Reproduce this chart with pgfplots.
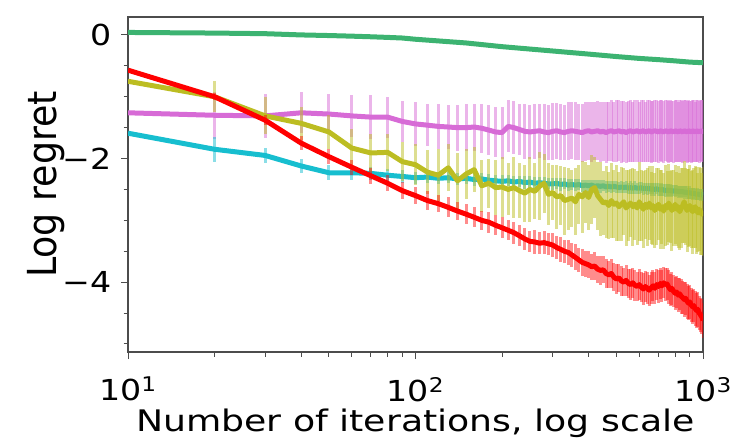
\documentclass[border=0pt]{standalone}
\usepackage{pgfplots}
\pgfplotsset{compat=1.18}
\usepackage{pgfplotstable}
\usepackage{fontspec}
\usepackage{graphicx}
\setmainfont{DejaVu Sans}
\newfontfamily\tickfont{DejaVu Sans}[FakeStretch=1.15]
\newfontfamily\labfont{DejaVu Sans}[FakeStretch=1.22]
\definecolor{cgreen}{HTML}{3CB371}
\definecolor{cred}{HTML}{FF0000}
\definecolor{colive}{HTML}{BCBD22}
\definecolor{corchid}{HTML}{D76BD6}
\definecolor{ccyan}{HTML}{17BECF}

\pgfplotstableread{
x y
10 0.04
20 0.03
30 0.02
40 0.00
50 -0.01
60 -0.02
70 -0.03
80 -0.04
90 -0.05
100 -0.07
150 -0.13
200 -0.19
300 -0.26
400 -0.31
500 -0.35
600 -0.38
700 -0.40
800 -0.42
900 -0.44
1000 -0.45
}\greendata

\pgfplotstableread{
x y e
10 -0.57 0.04
20 -1.00 0.06
30 -1.38 0.08
40 -1.75 0.11
50 -1.97 0.12
60 -2.14 0.12
70 -2.28 0.13
80 -2.40 0.13
90 -2.52 0.14
100 -2.60 0.14
110 -2.68 0.15
120 -2.73 0.14
130 -2.79 0.16
140 -2.85 0.15
150 -2.90 0.16
160 -2.95 0.16
170 -3.00 0.15
180 -3.03 0.17
190 -3.08 0.16
200 -3.12 0.17
210 -3.16 0.16
220 -3.20 0.18
230 -3.25 0.17
240 -3.30 0.18
250 -3.34 0.17
260 -3.35 0.19
270 -3.37 0.18
280 -3.36 0.19
290 -3.38 0.18
300 -3.40 0.20
310 -3.44 0.19
320 -3.47 0.20
330 -3.50 0.19
340 -3.52 0.21
350 -3.56 0.20
360 -3.60 0.21
370 -3.64 0.20
380 -3.68 0.22
390 -3.70 0.21
400 -3.72 0.22
410 -3.75 0.21
420 -3.74 0.23
430 -3.79 0.22
440 -3.81 0.23
450 -3.80 0.22
460 -3.86 0.23
470 -3.88 0.22
480 -3.86 0.24
490 -3.92 0.23
500 -3.95 0.24
510 -3.93 0.23
520 -3.98 0.24
530 -4.00 0.23
540 -3.97 0.25
550 -4.02 0.24
560 -4.04 0.25
570 -4.01 0.24
580 -4.05 0.25
590 -4.07 0.24
600 -4.04 0.25
610 -4.08 0.24
620 -4.11 0.26
630 -4.07 0.25
640 -4.10 0.26
650 -4.13 0.25
660 -4.09 0.26
670 -4.06 0.25
680 -4.10 0.26
690 -4.04 0.25
700 -4.07 0.26
710 -4.02 0.25
720 -4.06 0.26
730 -4.01 0.25
740 -4.04 0.27
750 -4.03 0.26
760 -4.08 0.27
770 -4.12 0.26
780 -4.10 0.27
790 -4.15 0.26
800 -4.18 0.27
810 -4.16 0.26
820 -4.21 0.27
830 -4.19 0.26
840 -4.23 0.28
850 -4.25 0.27
860 -4.28 0.28
870 -4.26 0.27
880 -4.31 0.28
890 -4.34 0.27
900 -4.32 0.28
910 -4.37 0.27
920 -4.40 0.28
930 -4.38 0.27
940 -4.43 0.28
950 -4.46 0.28
960 -4.44 0.28
970 -4.50 0.28
980 -4.53 0.28
990 -4.56 0.28
1000 -4.62 0.28
}\reddata

\pgfplotstableread{
x y e
10 -0.75 0.04
20 -1.00 0.25
30 -1.31 0.30
40 -1.43 0.27
50 -1.57 0.28
60 -1.83 0.30
70 -1.91 0.30
80 -1.90 0.30
90 -2.05 0.32
100 -2.10 0.33
110 -2.22 0.36
120 -2.27 0.42
130 -2.15 0.38
140 -2.36 0.45
150 -2.25 0.40
160 -2.18 0.36
170 -2.44 0.42
180 -2.40 0.40
190 -2.47 0.44
200 -2.46 0.48
210 -2.50 0.42
220 -2.47 0.50
230 -2.52 0.44
240 -2.56 0.46
250 -2.50 0.52
260 -2.53 0.45
270 -2.45 0.55
280 -2.40 0.48
290 -2.58 0.50
300 -2.55 0.44
310 -2.62 0.52
320 -2.60 0.48
330 -2.68 0.55
340 -2.66 0.50
350 -2.64 0.46
360 -2.70 0.54
370 -2.58 0.48
380 -2.62 0.58
390 -2.55 0.50
400 -2.63 0.52
410 -2.50 0.56
420 -2.47 0.50
430 -2.60 0.55
440 -2.66 0.60
450 -2.72 0.52
460 -2.70 0.58
470 -2.76 0.54
480 -2.68 0.60
490 -2.74 0.55
500 -2.72 0.62
510 -2.78 0.56
520 -2.74 0.60
530 -2.70 0.54
540 -2.80 0.62
550 -2.76 0.58
560 -2.72 0.55
570 -2.78 0.63
580 -2.74 0.57
590 -2.80 0.60
600 -2.70 0.64
610 -2.76 0.58
620 -2.82 0.62
630 -2.74 0.56
640 -2.79 0.63
650 -2.72 0.60
660 -2.80 0.58
670 -2.76 0.64
680 -2.84 0.60
690 -2.78 0.62
700 -2.74 0.58
710 -2.82 0.64
720 -2.78 0.60
730 -2.85 0.62
740 -2.76 0.66
750 -2.80 0.60
760 -2.72 0.63
770 -2.78 0.58
780 -2.84 0.65
790 -2.80 0.61
800 -2.74 0.64
810 -2.82 0.60
820 -2.78 0.66
830 -2.86 0.62
840 -2.80 0.64
850 -2.76 0.60
860 -2.70 0.66
870 -2.78 0.62
880 -2.84 0.67
890 -2.80 0.63
900 -2.76 0.65
910 -2.82 0.62
920 -2.86 0.68
930 -2.80 0.64
940 -2.78 0.66
950 -2.84 0.70
960 -2.88 0.64
970 -2.82 0.68
980 -2.86 0.70
990 -2.90 0.66
1000 -2.86 0.72
}\olivedata

\pgfplotstableread{
x y e
10 -1.26 0.02
20 -1.30 0.38
30 -1.31 0.35
40 -1.26 0.33
50 -1.28 0.33
60 -1.31 0.34
70 -1.33 0.35
80 -1.33 0.33
90 -1.40 0.33
100 -1.44 0.35
110 -1.46 0.34
120 -1.48 0.36
130 -1.49 0.36
140 -1.50 0.37
150 -1.50 0.38
160 -1.49 0.38
170 -1.51 0.40
180 -1.54 0.40
190 -1.57 0.41
200 -1.58 0.42
210 -1.48 0.42
220 -1.50 0.43
230 -1.53 0.42
240 -1.56 0.44
250 -1.57 0.43
260 -1.56 0.45
270 -1.55 0.44
280 -1.57 0.45
290 -1.58 0.44
300 -1.56 0.46
310 -1.55 0.45
320 -1.57 0.46
330 -1.58 0.45
340 -1.56 0.47
350 -1.55 0.46
360 -1.56 0.47
370 -1.57 0.46
380 -1.58 0.47
390 -1.56 0.48
400 -1.55 0.47
410 -1.57 0.48
420 -1.56 0.47
430 -1.55 0.48
440 -1.57 0.49
450 -1.56 0.48
460 -1.58 0.49
470 -1.56 0.48
480 -1.55 0.49
490 -1.57 0.48
500 -1.56 0.50
510 -1.55 0.49
520 -1.57 0.50
530 -1.56 0.49
540 -1.58 0.50
550 -1.56 0.49
560 -1.55 0.50
570 -1.57 0.49
580 -1.56 0.50
590 -1.55 0.50
600 -1.57 0.49
610 -1.56 0.50
620 -1.55 0.50
630 -1.57 0.49
640 -1.56 0.50
650 -1.55 0.50
660 -1.57 0.50
670 -1.56 0.49
680 -1.55 0.50
690 -1.56 0.50
700 -1.57 0.50
710 -1.55 0.49
720 -1.56 0.50
730 -1.57 0.50
740 -1.55 0.49
750 -1.56 0.50
760 -1.57 0.50
770 -1.55 0.50
780 -1.56 0.49
790 -1.57 0.50
800 -1.55 0.50
810 -1.56 0.50
820 -1.57 0.49
830 -1.55 0.50
840 -1.56 0.50
850 -1.57 0.50
860 -1.55 0.49
870 -1.56 0.50
880 -1.57 0.50
890 -1.55 0.50
900 -1.56 0.49
910 -1.57 0.50
920 -1.55 0.50
930 -1.56 0.50
940 -1.57 0.49
950 -1.55 0.50
960 -1.56 0.50
970 -1.57 0.50
980 -1.55 0.49
990 -1.56 0.50
1000 -1.56 0.50
}\orchiddata

\pgfplotstableread{
x y e
10 -1.59 0.02
20 -1.85 0.20
30 -1.95 0.12
40 -2.12 0.12
50 -2.23 0.12
60 -2.23 0.12
70 -2.24 0.11
80 -2.27 0.10
90 -2.29 0.10
100 -2.31 0.10
110 -2.30 0.09
120 -2.32 0.10
130 -2.31 0.09
140 -2.33 0.10
150 -2.32 0.09
160 -2.34 0.10
170 -2.33 0.09
180 -2.35 0.10
190 -2.36 0.09
200 -2.37 0.10
210 -2.36 0.09
220 -2.38 0.10
230 -2.37 0.09
240 -2.39 0.10
250 -2.38 0.09
260 -2.40 0.10
270 -2.39 0.09
280 -2.40 0.10
290 -2.41 0.09
300 -2.41 0.10
310 -2.40 0.09
320 -2.42 0.10
330 -2.41 0.09
340 -2.43 0.10
350 -2.42 0.09
360 -2.43 0.10
370 -2.42 0.09
380 -2.44 0.10
390 -2.43 0.09
400 -2.44 0.10
410 -2.43 0.09
420 -2.45 0.10
430 -2.44 0.09
440 -2.45 0.10
450 -2.44 0.09
460 -2.46 0.10
470 -2.45 0.09
480 -2.46 0.10
490 -2.45 0.09
500 -2.46 0.10
510 -2.47 0.09
520 -2.46 0.10
530 -2.47 0.09
540 -2.46 0.10
550 -2.48 0.09
560 -2.47 0.10
570 -2.48 0.09
580 -2.47 0.10
590 -2.48 0.09
600 -2.48 0.10
610 -2.47 0.09
620 -2.49 0.10
630 -2.48 0.09
640 -2.49 0.10
650 -2.48 0.09
660 -2.50 0.10
670 -2.49 0.09
680 -2.50 0.10
690 -2.49 0.09
700 -2.50 0.10
710 -2.51 0.09
720 -2.50 0.10
730 -2.51 0.09
740 -2.52 0.10
750 -2.51 0.09
760 -2.52 0.10
770 -2.51 0.09
780 -2.53 0.10
790 -2.52 0.09
800 -2.53 0.10
810 -2.52 0.09
820 -2.54 0.10
830 -2.53 0.09
840 -2.54 0.10
850 -2.53 0.09
860 -2.55 0.10
870 -2.54 0.09
880 -2.55 0.10
890 -2.56 0.09
900 -2.55 0.10
910 -2.56 0.09
920 -2.57 0.10
930 -2.56 0.09
940 -2.57 0.10
950 -2.58 0.09
960 -2.57 0.10
970 -2.58 0.09
980 -2.59 0.10
990 -2.58 0.09
1000 -2.59 0.10
}\cyandata

\begin{document}
\begin{tikzpicture}
\path[use as bounding box] (-128bp,-93bp) rectangle (603bp,352bp);
\begin{axis}[
  at={(0,0)}, anchor=south west,
  scale only axis, width=575bp, height=335bp,
  xmode=log, xmin=10, xmax=1000, ymin=-5.13, ymax=0.29,
  xtick={10,100,1000},
  xticklabels={10\textsuperscript{1},10\textsuperscript{2},10\textsuperscript{3}},
  minor xtick={20,30,40,50,60,70,80,90,200,300,400,500,600,700,800,900},
  ytick={-4,-2,0}, yticklabels={−4,−2,0},
  minor ytick={-5,-4.5,-3.5,-3,-2.5,-1.5,-1,-0.5},
  tick align=outside, tick pos=left,
  major tick length=7bp, minor tick length=4.5bp,
  every tick/.style={black!70, line width=1bp},
  axis line style={black!70, line width=1.2bp},
  xticklabel style={font=\fontsize{29}{34}\selectfont\tickfont, anchor=north, inner sep=0pt, yshift=-18bp},
  yticklabel style={font=\fontsize{29}{34}\selectfont\tickfont, anchor=east, inner sep=0pt, xshift=-9bp},
  clip=true,
  every axis plot/.append style={mark=none, line join=round},
]
\addplot[draw=cgreen, line width=5bp] table[x=x,y=y] {\greendata};
\addplot[draw=corchid, line width=5bp, error bars/.cd, y dir=both, y explicit, error mark=none,
  error bar style={draw=corchid, opacity=0.5, line width=3bp}] table[x=x,y=y,y error=e] {\orchiddata};
\addplot[draw=ccyan, line width=5bp, error bars/.cd, y dir=both, y explicit, error mark=none,
  error bar style={draw=ccyan, opacity=0.5, line width=3bp}] table[x=x,y=y,y error=e] {\cyandata};
\addplot[draw=colive, line width=5bp, error bars/.cd, y dir=both, y explicit, error mark=none,
  error bar style={draw=colive, opacity=0.5, line width=3bp}] table[x=x,y=y,y error=e] {\olivedata};
\addplot[draw=cred, line width=5bp, error bars/.cd, y dir=both, y explicit, error mark=none,
  error bar style={draw=cred, opacity=0.45, line width=3bp}] table[x=x,y=y,y error=e] {\reddata};
\end{axis}
\node[anchor=base, inner sep=0pt] at (287.5bp,-79bp) {\fontsize{29.8}{34}\selectfont\labfont Number of iterations, log scale};
\node[rotate=90, anchor=base, inner sep=0pt] at (-71bp,167.5bp) {\scalebox{1}[1.1]{\fontsize{36.5}{40}\selectfont Log regret}};
\end{tikzpicture}
\end{document}
